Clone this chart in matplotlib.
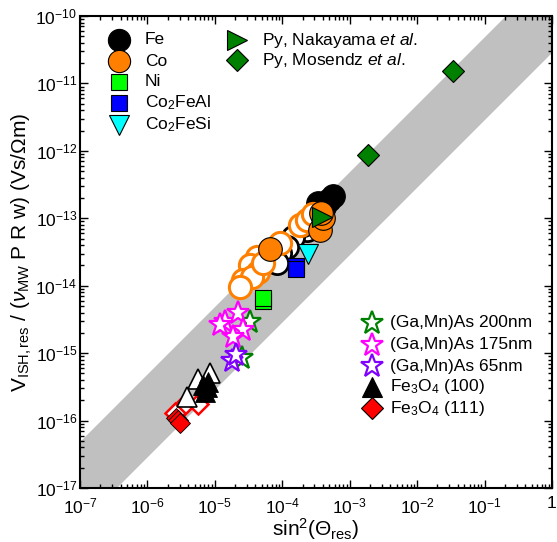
import numpy as np
import matplotlib
matplotlib.use("Agg")
import matplotlib.pyplot as plt

plt.rcParams['font.family'] = ['Liberation Sans', 'DejaVu Sans']
plt.rcParams['mathtext.fontset'] = 'custom'
plt.rcParams['mathtext.rm'] = 'Liberation Sans'
plt.rcParams['mathtext.it'] = 'Liberation Sans:italic'
plt.rcParams['mathtext.bf'] = 'Liberation Sans:bold'

# ---------------- data ----------------
band_lo_coef = 2.83e-11   # lower edge of grey band: y = coef * x
band_hi_coef = 4.8e-10    # upper edge of grey band

fe_filled_x = [5.6e-4, 5.0e-4, 4.1e-4, 3.4e-4]
fe_filled_y = [2.15e-13, 1.85e-13, 1.48e-13, 1.68e-13]
fe_open_x = [2.31e-4, 1.45e-4, 1.17e-4, 9.3e-5, 8.3e-5, 2.0e-4]
fe_open_y = [6.7e-14, 5.3e-14, 3.8e-14, 3.05e-14, 2.15e-14, 8.0e-14]

co_filled_x = [6.6e-5, 3.64e-4, 4.03e-4, 3.7e-4]
co_filled_y = [3.5e-14, 6.7e-14, 1.01e-13, 1.2e-13]
co_open_x = [1.84e-4, 2.31e-4, 9.3e-5, 4.2e-5, 3.3e-5, 4.4e-5, 2.65e-5, 3.5e-5, 5.2e-5, 2.37e-5, 2.9e-4]
co_open_y = [7.9e-14, 9.4e-14, 4.3e-14, 2.7e-14, 2.0e-14, 1.6e-14, 1.2e-14, 1.36e-14, 2.16e-14, 9.6e-15, 1.15e-13]

ni_x = [5.25e-5, 5.25e-5]
ni_y = [6.0e-15, 6.6e-15]
co2feal_x = [1.6e-4, 1.6e-4]
co2feal_y = [1.95e-14, 1.75e-14]
co2fesi_x = [2.44e-4]
co2fesi_y = [3.0e-14]
py_nak_x = [3.86e-4]
py_nak_y = [1.05e-13]
py_mos_x = [1.89e-3, 3.42e-2]
py_mos_y = [8.7e-13, 1.53e-11]

gamnas200_x = [3.33e-5, 2.54e-5]
gamnas200_y = [2.88e-15, 8.4e-16]
gamnas175_x = [1.42e-5, 2.23e-5, 2.65e-5, 1.83e-5, 1.19e-5]
gamnas175_y = [2.9e-15, 4.0e-15, 2.2e-15, 1.74e-15, 2.6e-15]
gamnas65_x = [1.78e-5, 2.07e-5]
gamnas65_y = [7.6e-16, 9.3e-16]

fe3o4_100_open_x = [5.7e-6, 8.5e-6, 3.83e-6]
fe3o4_100_open_y = [4.2e-16, 5.0e-16, 2.25e-16]
fe3o4_100_filled_x = [8.0e-6, 7.6e-6, 7.2e-6, 6.7e-6]
fe3o4_100_filled_y = [3.75e-16, 3.16e-16, 2.67e-16, 3.35e-16]

fe3o4_111_open_x = [3.23e-6, 5.7e-6, 2.57e-6]
fe3o4_111_open_y = [1.6e-16, 1.79e-16, 1.29e-16]
fe3o4_111_filled_x = [2.65e-6, 2.84e-6, 3.05e-6]
fe3o4_111_filled_y = [1.09e-16, 1.01e-16, 9.1e-17]

xtick_vals = [1e-7, 1e-6, 1e-5, 1e-4, 1e-3, 1e-2, 1e-1, 1]
xtick_labels = ['$10^{-7}$', '$10^{-6}$', '$10^{-5}$', '$10^{-4}$', '$10^{-3}$',
                '$10^{-2}$', '$10^{-1}$', '1']
ytick_vals = [1e-17, 1e-16, 1e-15, 1e-14, 1e-13, 1e-12, 1e-11, 1e-10]
ytick_labels = ['$10^{-17}$', '$10^{-16}$', '$10^{-15}$', '$10^{-14}$', '$10^{-13}$',
                '$10^{-12}$', '$10^{-11}$', '$10^{-10}$']

ORANGE = '#FF8000'
DGREEN = '#008000'
MAGENTA = '#FF00FF'
PURPLE = '#8000FF'

# ---------------- figure ----------------
W, H = 557, 542
fig = plt.figure(figsize=(W / 100, H / 100), dpi=100)
L, R, T, B = 80, 552, 16, 488
ax = fig.add_axes([L / W, 1 - B / H, (R - L) / W, (B - T) / H])
ax.set_xscale('log')
ax.set_yscale('log')
ax.set_xlim(1e-7, 1)
ax.set_ylim(1e-17, 1e-10)

xb = np.logspace(-7, 0, 50)
ax.fill_between(xb, band_lo_coef * xb, band_hi_coef * xb, color='#C0C0C0', lw=0, zorder=0)

def pts(x, y, marker, ms, fc, ec, mew, z=3):
    ax.plot(x, y, linestyle='none', marker=marker, ms=ms, mfc=fc, mec=ec, mew=mew, zorder=z)

# Fe3O4
pts(fe3o4_111_open_x, fe3o4_111_open_y, 'D', 10.5, 'white', 'red', 1.8)
pts(fe3o4_111_filled_x, fe3o4_111_filled_y, 'D', 10.5, 'red', 'black', 0.6)
pts(fe3o4_100_open_x, fe3o4_100_open_y, '^', 14, 'white', 'black', 1.2)
pts(fe3o4_100_filled_x, fe3o4_100_filled_y, '^', 14, 'black', 'black', 0.6)
# (Ga,Mn)As
pts(gamnas200_x, gamnas200_y, '*', 17, 'white', DGREEN, 1.6)
pts(gamnas175_x, gamnas175_y, '*', 17, 'white', MAGENTA, 1.6)
pts(gamnas65_x, gamnas65_y, '*', 17, 'white', PURPLE, 1.6)
# metals
pts(fe_open_x, fe_open_y, 'o', 16, 'white', 'black', 2.0)
pts(fe_filled_x, fe_filled_y, 'o', 17, 'black', 'black', 0.8)
pts(co_open_x, co_open_y, 'o', 16, 'white', ORANGE, 2.2)
pts(co_filled_x, co_filled_y, 'o', 17, ORANGE, 'black', 0.8)
pts(ni_x, ni_y, 's', 11.5, '#00FF00', 'black', 0.8)
pts(co2feal_x, co2feal_y, 's', 11.5, '#0000FF', 'black', 0.8)
pts(co2fesi_x, co2fesi_y, 'v', 15, '#00FFFF', 'black', 0.8)
pts(py_nak_x, py_nak_y, '>', 15, DGREEN, 'black', 0.8)
pts(py_mos_x, py_mos_y, 'D', 11, DGREEN, 'black', 0.8)

# ---------------- axes style ----------------
ax.set_xticks(xtick_vals)
ax.set_xticklabels(xtick_labels, fontsize=12.5)
ax.set_yticks(ytick_vals)
ax.set_yticklabels(ytick_labels, fontsize=12.5)
ax.tick_params(which='both', direction='in', top=True, right=True, width=1.0, colors='black')
ax.tick_params(which='major', length=6)
ax.tick_params(axis='x', which='major', pad=6)
ax.tick_params(axis='y', which='major', pad=2)
ax.tick_params(which='minor', length=3)
ax.xaxis.set_minor_locator(matplotlib.ticker.LogLocator(base=10, subs=np.arange(2, 10), numticks=20))
ax.yaxis.set_minor_locator(matplotlib.ticker.LogLocator(base=10, subs=np.arange(2, 10), numticks=20))
ax.xaxis.set_minor_formatter(matplotlib.ticker.NullFormatter())
ax.yaxis.set_minor_formatter(matplotlib.ticker.NullFormatter())
for s in ax.spines.values():
    s.set_linewidth(1.5)

ax.set_xlabel(r'sin$^{2}$($\Theta_{\rm res}$)', fontsize=15, labelpad=0)
ax.set_ylabel(r'V$_{\rm ISH,res}$ / ($\nu_{\rm MW}$ P R w) (Vs/$\Omega$m)', fontsize=15, labelpad=1)

# ---------------- legends (manual) ----------------
def fx(px):
    return (px - L) / (R - L)

def fy(py):
    return (B - py) / (B - T)

def leg(px, py, tx, label, marker, ms, fc, ec, mew):
    ax.plot([fx(px)], [fy(py)], transform=ax.transAxes, linestyle='none', marker=marker,
            ms=ms, mfc=fc, mec=ec, mew=mew, clip_on=False, zorder=5)
    ax.text(fx(tx), fy(py), label, transform=ax.transAxes, fontsize=12.5,
            va='center', ha='left', zorder=5)

leg(119, 40, 145, 'Fe', 'o', 16, 'black', 'black', 0.8)
leg(119, 61, 145, 'Co', 'o', 16, ORANGE, 'black', 0.8)
leg(119, 82, 145, 'Ni', 's', 11, '#00FF00', 'black', 0.8)
leg(119, 103, 145, r'Co$_{2}$FeAl', 's', 11, '#0000FF', 'black', 0.8)
leg(119, 125, 145, r'Co$_{2}$FeSi', 'v', 15, '#00FFFF', 'black', 0.8)

leg(237, 40, 262, r'Py, Nakayama $\it{et\ al.}$', '>', 15, DGREEN, 'black', 0.8)
leg(237, 60, 262, r'Py, Mosendz $\it{et\ al.}$', 'D', 11, DGREEN, 'black', 0.8)

leg(372, 323, 390, '(Ga,Mn)As 200nm', '*', 17, 'white', DGREEN, 1.6)
leg(372, 345, 390, '(Ga,Mn)As 175nm', '*', 17, 'white', MAGENTA, 1.6)
leg(372, 366, 390, '(Ga,Mn)As 65nm', '*', 17, 'white', PURPLE, 1.6)
leg(372, 387, 390, r'Fe$_{3}$O$_{4}$ (100)', '^', 14, 'black', 'black', 0.8)
leg(372, 408, 390, r'Fe$_{3}$O$_{4}$ (111)', 'D', 11, 'red', 'black', 0.8)

fig.savefig('out.png', dpi=100)
